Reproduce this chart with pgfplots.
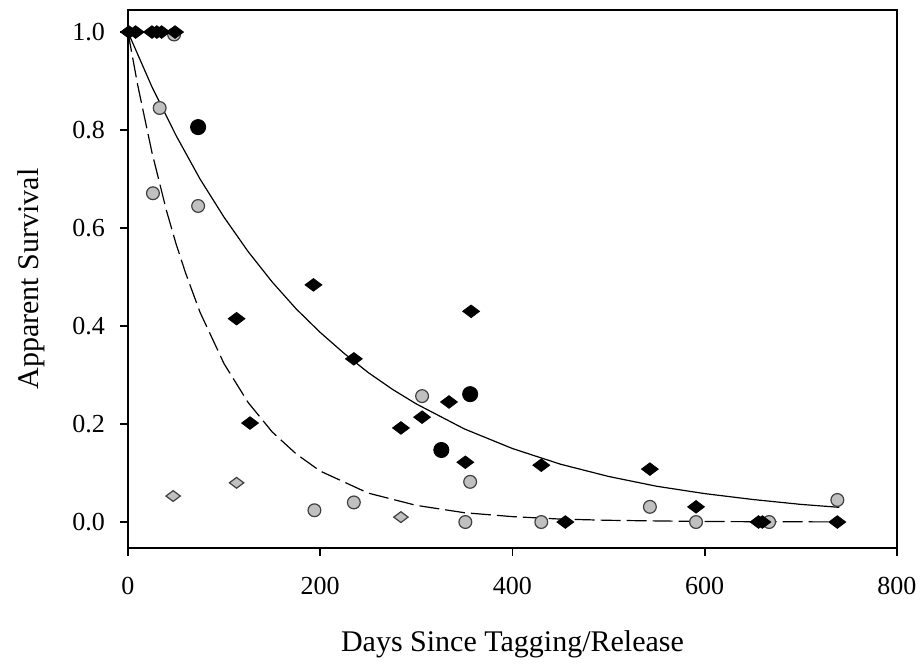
\documentclass[border=0pt]{standalone}
\usepackage{fontspec}
\setmainfont{Liberation Serif}
\usepackage{pgfplots}
\pgfplotsset{compat=1.18}

\definecolor{ptgray}{RGB}{192,192,192}

\begin{document}
\begin{tikzpicture}
\begin{axis}[
  scale only axis,
  width=384.5pt, height=269pt,
  xmin=0, xmax=800,
  ymin=-0.053, ymax=1.045,
  xtick={0,200,400,600,800},
  ytick={0,0.2,0.4,0.6,0.8,1.0},
  yticklabel style={/pgf/number format/fixed, /pgf/number format/fixed zerofill, /pgf/number format/precision=1, xshift=-4pt},
  /pgf/number format/assume math mode=true,
  tick align=outside,
  tick pos=left,
  major tick length=4pt,
  axis line style={line width=0.9pt},
  tick style={line width=0.9pt, black},
  ticklabel style={font=\fontsize{13}{15}\selectfont},
  xticklabel style={yshift=-7pt},
  xlabel={Days Since Tagging/Release},
  ylabel={Apparent Survival},
  label style={font=\fontsize{15}{18}\selectfont},
  xlabel style={yshift=-11pt},
  ylabel style={yshift=7pt},
  clip=false,
]
% fitted curves
\addplot [black, line width=0.6pt] coordinates {
(0,1.0) (25,0.888) (50,0.789) (75,0.700) (100,0.622) (125,0.552) (150,0.490)
(175,0.435) (200,0.387) (225,0.344) (250,0.305) (275,0.271) (300,0.241)
(350,0.190) (400,0.150) (450,0.118) (500,0.093) (550,0.073) (600,0.058)
(650,0.046) (700,0.036) (740,0.030)
};
\addplot [black, line width=0.6pt, dash pattern=on 10pt off 3pt] coordinates {
(0,1.0) (10,0.893) (25,0.754) (40,0.636) (50,0.568) (60,0.508) (75,0.428)
(100,0.323) (125,0.244) (150,0.184) (175,0.139) (200,0.104) (250,0.059)
(300,0.034) (350,0.019) (400,0.011) (450,0.006) (500,0.0035) (600,0.001)
(740,0.0002)
};
% gray circles
\addplot [only marks, mark=*, mark size=3.2pt, mark options={fill=ptgray, draw=black!75, line width=0.6pt}] coordinates {
(48,0.995) (33,0.845) (26,0.671) (73,0.645) (194,0.024) (235,0.040)
(306,0.257) (356,0.082) (351,0.0) (430,0.0) (543,0.031) (591,0.0)
(667,0.0) (738,0.045)
};
% gray diamonds
\addplot [only marks, mark=diamond*, mark size=3.6pt, mark options={rotate=90, fill=ptgray, draw=black!75, line width=0.6pt}] coordinates {
(47,0.053) (113,0.080) (284,0.010)
};
% black diamonds
\addplot [only marks, mark=diamond*, mark size=4.2pt, mark options={rotate=90, fill=black, draw=black}] coordinates {
(1,1.0) (8,1.0) (25,1.0) (30,1.0) (35,1.0) (49,1.0)
(113,0.415) (127,0.202) (193,0.484) (235,0.333) (284,0.192) (306,0.214)
(334,0.245) (351,0.122) (357,0.430) (430,0.116) (543,0.108) (591,0.031)
(455,0.0) (656,0.0) (660,0.0) (738,0.0)
};
% black circles
\addplot [only marks, mark=*, mark size=3.8pt, mark options={fill=black, draw=black}] coordinates {
(73,0.806) (356,0.261) (326,0.147)
};
\coordinate (bl) at (rel axis cs:-0.1664,-0.2156);
\coordinate (tr) at (rel axis cs:1.030,1.0186);
\end{axis}
\pgfresetboundingbox
\path[use as bounding box] (bl) rectangle (tr);
\end{tikzpicture}
\end{document}
